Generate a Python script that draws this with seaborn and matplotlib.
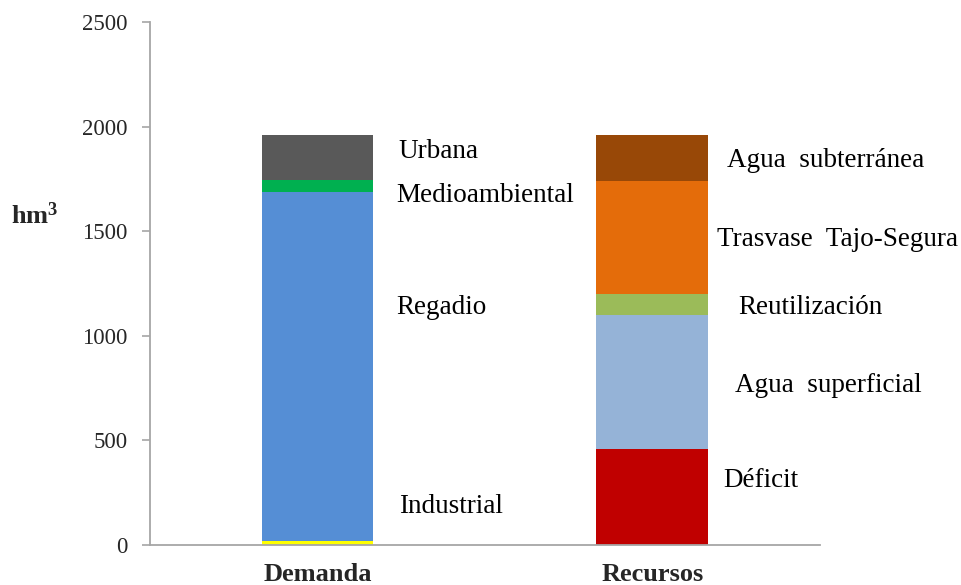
import numpy as np
import pandas as pd
import seaborn as sns
from matplotlib import pyplot as plt

# categories and stacked segments (hm3), bottom to top
categories = ["Demanda", "Recursos"]

demanda_labels = ["Industrial", "Regadio", "Medioambiental", "Urbana"]
demanda_values = [20, 1667, 58, 215]
demanda_colors = ["#FFFF00", "#558ED5", "#00B050", "#595959"]

recursos_labels = ["Déficit", "Agua  superficial", "Reutilización",
                   "Trasvase  Tajo-Segura", "Agua  subterránea"]
recursos_values = [459, 638, 104, 539, 220]
recursos_colors = ["#C00000", "#95B3D7", "#9BBB59", "#E46C0A", "#984807"]

# where each segment's name sits (hm3), next to the bar
demanda_label_y = [182, 1133, 1673, 1879]
recursos_label_y = [306, 760, 1133, 1458, 1840]

y_ticks = [0, 500, 1000, 1500, 2000, 2500]

sns.set_style("white")
plt.rcParams['font.family'] = ['Liberation Serif', 'DejaVu Serif']
plt.rcParams['mathtext.fontset'] = 'custom'
plt.rcParams['mathtext.rm'] = 'Liberation Serif'
plt.rcParams['mathtext.bf'] = 'Liberation Serif:bold'

fig = plt.figure(figsize=(9.62, 5.85), dpi=100)
ax = fig.add_axes([0.156, 0.0684, 0.696, 0.894])

groups = [
    ("Demanda", demanda_labels, demanda_values, demanda_colors, demanda_label_y, [0.243, 0.234, 0.234, 0.243]),
    ("Recursos", recursos_labels, recursos_values, recursos_colors, recursos_label_y, [0.213, 0.246, 0.258, 0.192, 0.222]),
]

for cat, labels, values, colors, label_y, dx in groups:
    df = pd.DataFrame({"cat": cat, "seg": labels, "top": np.cumsum(values)})
    # draw tallest first so the lower segments sit on top
    for i in range(len(df) - 1, -1, -1):
        sns.barplot(data=df.iloc[[i]], x="cat", y="top", order=categories,
                    color=colors[i], saturation=1, width=0.333,
                    linewidth=0, errorbar=None, ax=ax)
    xi = categories.index(cat)
    for lab, yv, off in zip(labels, label_y, dx):
        ax.text(xi + off, yv, lab, ha="left", va="center", fontsize=19.5,
                color="black")

ax.set_xlim(-0.5, 1.5)
ax.set_ylim(0, 2500)
ax.set_yticks(y_ticks)
ax.set_xlabel("")
ax.set_ylabel(r"$\mathbf{hm^3}$", rotation=0, fontsize=19)
ax.yaxis.set_label_coords(-0.172, 0.605)

sns.despine(ax=ax)
for s in ["left", "bottom"]:
    ax.spines[s].set_color("#A6A6A6")
    ax.spines[s].set_linewidth(1.3)

ax.tick_params(axis="y", direction="out", length=6, width=1.2, color="#A6A6A6",
               labelsize=16.5, left=True, pad=10)
ax.tick_params(axis="x", length=0, labelsize=19, pad=13)
for t in ax.get_xticklabels():
    t.set_fontweight("bold")

fig.savefig("out.png", dpi=100)
